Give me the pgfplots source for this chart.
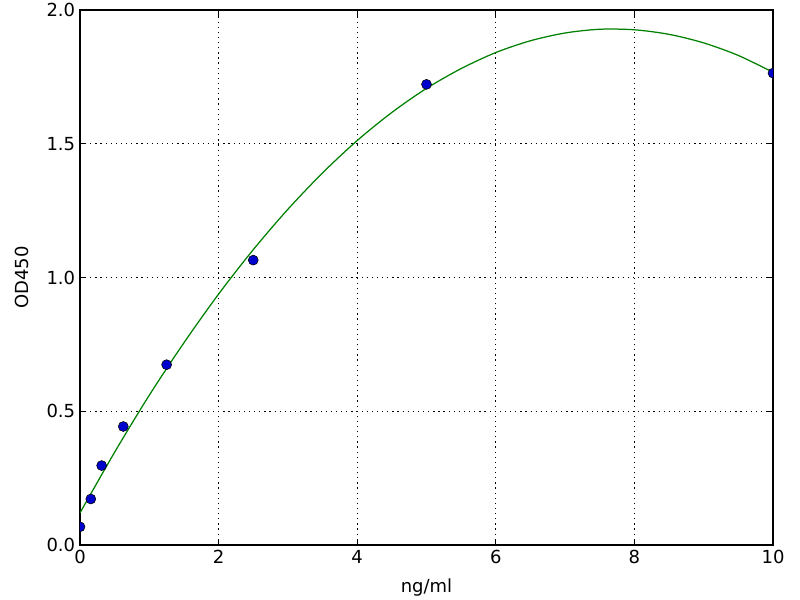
\documentclass[border=0pt]{standalone}
\usepackage{pgfplots}
\pgfplotsset{compat=1.18}
\usepackage{fontspec}
\setmainfont{DejaVu Sans}
\definecolor{mplgreen}{rgb}{0,0.5,0}
\begin{document}
\begin{tikzpicture}
\useasboundingbox (-0.8in,-0.55in) rectangle (7.2in,5.45in);
\begin{axis}[
    at={(0,0)}, anchor=south west,
    scale only axis,
    width=6.93in, height=5.35in,
    xmin=0, xmax=10, ymin=0, ymax=2,
    xtick={0,2,...,10},
    ytick={0,0.5,1,1.5,2},
    yticklabel style={/pgf/number format/fixed,/pgf/number format/fixed zerofill,/pgf/number format/precision=1},
    /pgf/number format/assume math mode=true,
    ticklabel style={font=\fontsize{13}{15}\selectfont},
    label style={font=\fontsize{13}{15}\selectfont},
    tick align=inside, major tick length=4pt,
    tick style={black, line width=0.6pt},
    axis line style={line width=0.8pt},
    grid=major,
    major grid style={black, dash pattern=on 0.9pt off 2.8pt, line width=0.6pt},
    xlabel={ng/ml}, ylabel={OD450},
    xlabel style={yshift=-4pt},
    ylabel style={yshift=6pt},
    clip marker paths=true,
]
% fitted curve
\addplot[mplgreen, line width=0.9pt, smooth, no marks] coordinates {
(0,0.120) (0.5,0.347) (1,0.560) (1.5,0.756) (2,0.938) (2.5,1.104)
(3,1.255) (3.5,1.391) (4,1.512) (4.5,1.617) (5,1.707) (5.5,1.781)
(6,1.841) (6.5,1.885) (7,1.914) (7.5,1.928) (8,1.926) (8.5,1.909)
(9,1.877) (9.5,1.830) (10,1.767)};
% standards
\addplot[only marks, mark=*, mark size=3.6pt, mark options={fill=blue!80!black, draw=black, line width=0.4pt}] coordinates {
(0,0.068) (0.156,0.172) (0.3125,0.297) (0.625,0.443) (1.25,0.674)
(2.5,1.065) (5,1.722) (10,1.764)};
\end{axis}
\end{tikzpicture}
\end{document}
